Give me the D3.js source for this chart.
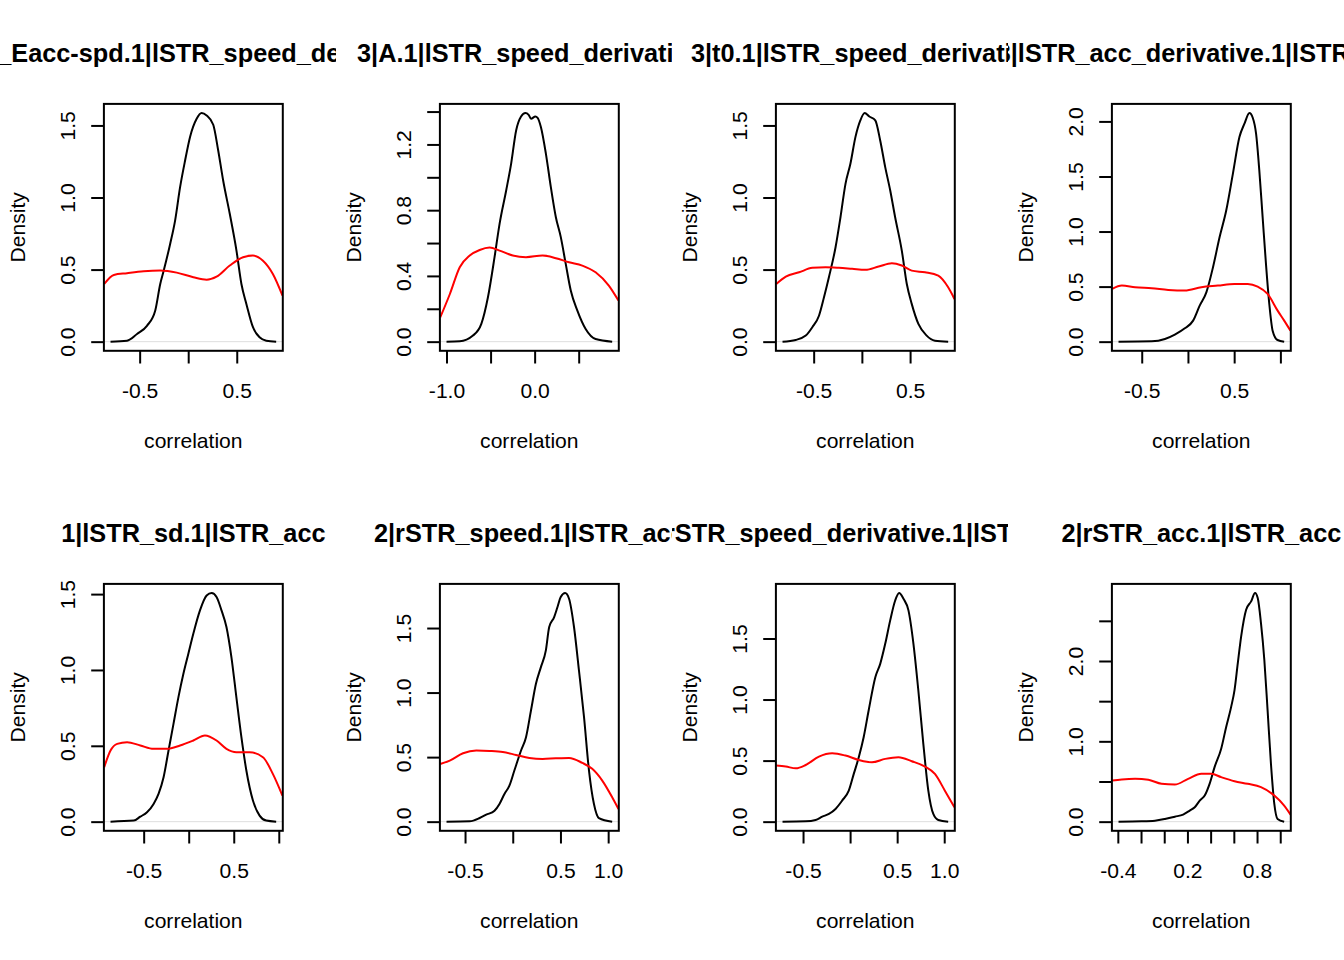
<!DOCTYPE html>
<html>
<head>
<meta charset="utf-8">
<script src="https://cdn.jsdelivr.net/npm/d3@7"></script>
<style>
  body { margin: 0; background: #fff; }
  text { font-family: "Liberation Sans", Arial, Helvetica, sans-serif; }
</style>
</head>
<body>
<div id="chart"></div>
<script>
// panel titles (R clips them to each figure region)
const titles = [
  '3|A_Eacc-spd.1|lSTR_speed_derivative',
  '3|A.1|lSTR_speed_derivative',
  '3|t0.1|lSTR_speed_derivative',
  '3|lSTR_acc_derivative.1|lSTR_acc',
  '1|lSTR_sd.1|lSTR_acc',
  '2|rSTR_speed.1|lSTR_acc',
  '2|rSTR_speed_derivative.1|lSTR_acc',
  '2|rSTR_acc.1|lSTR_acc'
]

const xTicks = [
  [-0.5, 0, 0.5],
  [-1.0, -0.5, 0, 0.5],
  [-0.5, 0, 0.5],
  [-0.5, 0, 0.5, 1.0],
  [-0.5, 0, 0.5, 1.0],
  [-0.5, 0, 0.5, 1.0],
  [-0.5, 0, 0.5, 1.0],
  [-0.4, -0.2, 0, 0.2, 0.4, 0.6, 0.8, 1.0]
]
const xLabels = [
  ['-0.5', '', '0.5'],
  ['-1.0', '', '0.0', ''],
  ['-0.5', '', '0.5'],
  ['-0.5', '', '0.5', ''],
  ['-0.5', '', '0.5', ''],
  ['-0.5', '', '0.5', '1.0'],
  ['-0.5', '', '0.5', '1.0'],
  ['-0.4', '', '', '0.2', '', '', '0.8', '']
]
const yTicks = [
  [0, 0.5, 1.0, 1.5],
  [0, 0.2, 0.4, 0.6, 0.8, 1.0, 1.2, 1.4],
  [0, 0.5, 1.0, 1.5],
  [0, 0.5, 1.0, 1.5, 2.0],
  [0, 0.5, 1.0, 1.5],
  [0, 0.5, 1.0, 1.5],
  [0, 0.5, 1.0, 1.5],
  [0, 0.5, 1.0, 1.5, 2.0, 2.5]
]
const yLabels = [
  ['0.0', '0.5', '1.0', '1.5'],
  ['0.0', '', '0.4', '', '0.8', '', '1.2', ''],
  ['0.0', '0.5', '1.0', '1.5'],
  ['0.0', '0.5', '1.0', '1.5', '2.0'],
  ['0.0', '0.5', '1.0', '1.5'],
  ['0.0', '0.5', '1.0', '1.5'],
  ['0.0', '0.5', '1.0', '1.5'],
  ['0.0', '', '1.0', '', '2.0', '']
]

// density curves: [correlation, density]
// black = observed, red = null
const black1 = [[-0.80,0],[-0.63,0.007],[-0.527,0.053],[-0.425,0.11],[-0.34,0.215],[-0.288,0.40],[-0.254,0.488],[-0.186,0.678],[-0.135,0.84],[-0.084,1.07],[-0.032,1.257],[0.019,1.42],[0.087,1.546],[0.138,1.586],[0.19,1.569],[0.258,1.505],[0.309,1.326],[0.36,1.118],[0.428,0.887],[0.497,0.632],[0.548,0.40],[0.599,0.262],[0.667,0.10],[0.735,0.03],[0.804,0.007],[0.906,0]]
const red1 = [[-0.865,0.40],[-0.766,0.463],[-0.63,0.475],[-0.459,0.488],[-0.288,0.493],[-0.118,0.479],[0.053,0.447],[0.19,0.43],[0.292,0.451],[0.428,0.528],[0.565,0.586],[0.667,0.597],[0.77,0.562],[0.872,0.47],[0.971,0.32]]

const black2 = [[-1.0,0],[-0.85,0.002],[-0.70,0.037],[-0.605,0.108],[-0.53,0.27],[-0.455,0.514],[-0.398,0.717],[-0.323,0.92],[-0.267,1.082],[-0.21,1.285],[-0.154,1.37],[-0.105,1.391],[-0.068,1.38],[-0.041,1.356],[0.008,1.37],[0.034,1.362],[0.071,1.306],[0.128,1.143],[0.184,0.94],[0.241,0.757],[0.297,0.636],[0.353,0.473],[0.41,0.311],[0.485,0.189],[0.579,0.077],[0.692,0.016],[0.88,0]]
const red2 = [[-1.071,0.148],[-0.962,0.29],[-0.85,0.453],[-0.737,0.524],[-0.624,0.558],[-0.511,0.573],[-0.398,0.554],[-0.248,0.524],[-0.098,0.514],[0.09,0.524],[0.241,0.508],[0.391,0.483],[0.541,0.463],[0.692,0.422],[0.842,0.341],[0.951,0.25]]

const black3 = [[-0.823,0],[-0.686,0.012],[-0.582,0.042],[-0.514,0.10],[-0.445,0.18],[-0.393,0.308],[-0.342,0.447],[-0.273,0.655],[-0.222,0.863],[-0.17,1.095],[-0.119,1.234],[-0.067,1.419],[-0.016,1.535],[0.029,1.586],[0.077,1.562],[0.139,1.535],[0.19,1.396],[0.242,1.211],[0.294,1.049],[0.345,0.863],[0.414,0.632],[0.466,0.40],[0.517,0.262],[0.586,0.123],[0.672,0.042],[0.758,0.007],[0.895,0]]
const red3 = [[-0.888,0.40],[-0.789,0.451],[-0.651,0.481],[-0.514,0.512],[-0.376,0.516],[-0.239,0.512],[-0.101,0.505],[0.036,0.498],[0.174,0.521],[0.311,0.544],[0.414,0.528],[0.517,0.493],[0.655,0.481],[0.792,0.458],[0.895,0.377],[0.96,0.296]]

const black4 = [[-0.751,0],[-0.392,0.003],[-0.249,0.024],[-0.142,0.064],[-0.034,0.121],[0.056,0.191],[0.127,0.327],[0.199,0.448],[0.271,0.676],[0.342,0.948],[0.414,1.191],[0.486,1.524],[0.557,1.858],[0.611,1.979],[0.665,2.076],[0.701,2.033],[0.737,1.888],[0.772,1.555],[0.808,1.13],[0.844,0.706],[0.88,0.342],[0.916,0.10],[0.969,0.015],[1.041,0]]
const red4 = [[-0.819,0.479],[-0.715,0.509],[-0.572,0.494],[-0.392,0.485],[-0.213,0.47],[-0.034,0.464],[0.145,0.494],[0.324,0.509],[0.502,0.524],[0.647,0.524],[0.754,0.50],[0.862,0.433],[0.97,0.282],[1.041,0.191],[1.109,0.10]]

const black5 = [[-0.868,0],[-0.61,0.007],[-0.537,0.033],[-0.463,0.062],[-0.39,0.117],[-0.335,0.183],[-0.279,0.293],[-0.224,0.469],[-0.169,0.645],[-0.114,0.821],[-0.059,0.975],[-0.004,1.107],[0.051,1.239],[0.125,1.393],[0.199,1.491],[0.254,1.507],[0.309,1.481],[0.364,1.393],[0.419,1.283],[0.474,1.085],[0.529,0.821],[0.585,0.557],[0.64,0.337],[0.713,0.139],[0.787,0.04],[0.86,0.007],[0.971,0]]
const red5 = [[-0.938,0.359],[-0.868,0.469],[-0.794,0.513],[-0.684,0.524],[-0.537,0.502],[-0.39,0.48],[-0.243,0.48],[-0.096,0.502],[0.051,0.535],[0.18,0.568],[0.309,0.535],[0.419,0.48],[0.529,0.458],[0.676,0.458],[0.824,0.425],[0.934,0.315],[1.04,0.172]]

const black6 = [[-0.694,0],[-0.451,0.003],[-0.347,0.028],[-0.278,0.054],[-0.191,0.085],[-0.139,0.137],[-0.087,0.215],[-0.035,0.279],[0.017,0.396],[0.087,0.551],[0.139,0.654],[0.191,0.861],[0.243,1.068],[0.295,1.197],[0.347,1.327],[0.382,1.508],[0.434,1.585],[0.469,1.663],[0.503,1.74],[0.549,1.771],[0.59,1.727],[0.642,1.508],[0.694,1.171],[0.747,0.809],[0.799,0.396],[0.851,0.137],[0.903,0.028],[1.042,0]]
const red6 = [[-0.76,0.447],[-0.66,0.473],[-0.521,0.53],[-0.382,0.551],[-0.243,0.548],[-0.104,0.54],[0.035,0.517],[0.174,0.494],[0.313,0.486],[0.451,0.491],[0.59,0.494],[0.729,0.455],[0.833,0.409],[0.938,0.318],[1.042,0.189],[1.108,0.098]]

const black7 = [[-0.718,0],[-0.472,0.003],[-0.366,0.014],[-0.296,0.041],[-0.225,0.063],[-0.155,0.104],[-0.085,0.172],[-0.014,0.254],[0.039,0.391],[0.092,0.527],[0.144,0.691],[0.197,0.91],[0.268,1.183],[0.32,1.292],[0.373,1.456],[0.426,1.648],[0.479,1.811],[0.521,1.872],[0.567,1.825],[0.62,1.73],[0.673,1.456],[0.725,1.074],[0.778,0.637],[0.831,0.254],[0.884,0.063],[0.937,0.014],[1.042,0]]
const red7 = [[-0.785,0.459],[-0.683,0.451],[-0.577,0.437],[-0.472,0.464],[-0.331,0.533],[-0.19,0.56],[-0.049,0.541],[0.092,0.505],[0.232,0.486],[0.373,0.514],[0.514,0.527],[0.655,0.495],[0.796,0.451],[0.901,0.391],[1.007,0.254],[1.109,0.117]]

const black8 = [[-0.394,0],[-0.194,0.004],[-0.08,0.012],[0.006,0.033],[0.091,0.062],[0.163,0.088],[0.22,0.138],[0.263,0.179],[0.306,0.262],[0.349,0.325],[0.391,0.471],[0.434,0.679],[0.491,0.908],[0.534,1.179],[0.577,1.429],[0.606,1.638],[0.634,1.971],[0.663,2.304],[0.706,2.638],[0.749,2.742],[0.783,2.846],[0.806,2.783],[0.834,2.471],[0.863,2.012],[0.891,1.388],[0.92,0.721],[0.949,0.221],[0.977,0.033],[1.034,0]]
const red8 = [[-0.449,0.512],[-0.366,0.525],[-0.251,0.533],[-0.137,0.521],[-0.023,0.471],[0.091,0.462],[0.206,0.533],[0.32,0.596],[0.406,0.596],[0.491,0.554],[0.606,0.504],[0.72,0.471],[0.834,0.429],[0.949,0.325],[1.034,0.2],[1.089,0.088]]

const panels = [
  { black: black1, red: red1 },
  { black: black2, red: red2 },
  { black: black3, red: red3 },
  { black: black4, red: red4 },
  { black: black5, red: red5 },
  { black: black6, red: red6 },
  { black: black7, red: red7 },
  { black: black8, red: red8 }
]

const W = 336
const H = 480
const box = { left: 103.9, right: 282.8, top: 103.9, bottom: 350.8 }
const fs = 21.1
const fsMain = 25.3
const tickLen = 12.7

const svg = d3.select('#chart')
  .append('svg')
  .attr('width', W * 4)
  .attr('height', H * 2)

svg.append('rect').attr('width', W * 4).attr('height', H * 2).attr('fill', '#fff')

panels.forEach(function(p, i) {
  const g = svg.append('g')
    .attr('transform', `translate(${(i % 4) * W},${Math.floor(i / 4) * H})`)

  g.append('clipPath').attr('id', 'fig' + i)
    .append('rect').attr('width', W).attr('height', H)
  g.append('clipPath').attr('id', 'plot' + i)
    .append('rect')
    .attr('x', box.left).attr('y', box.top)
    .attr('width', box.right - box.left).attr('height', box.bottom - box.top)

  // R's plot.density ranges: x from the curve, padded 4%; y from 0 to max, padded 4%
  const ext = d3.extent(p.black, d => d[0])
  const pad = (ext[1] - ext[0]) * 0.04
  const x = d3.scaleLinear().domain([ext[0] - pad, ext[1] + pad]).range([box.left, box.right])
  const top = d3.max(p.black, d => d[1])
  const y = d3.scaleLinear().domain([-0.04 * top, 1.04 * top]).range([box.bottom, box.top])

  const cx = (box.left + box.right) / 2
  const cy = (box.top + box.bottom) / 2

  // zero line
  g.append('line')
    .attr('x1', box.left).attr('x2', box.right)
    .attr('y1', y(0)).attr('y2', y(0))
    .attr('stroke', '#bebebe')
    .attr('stroke-width', 0.5)

  const line = d3.line()
    .x(d => x(d[0]))
    .y(d => y(d[1]))
    .curve(d3.curveMonotoneX)

  g.append('path')
    .attr('d', line(p.black))
    .attr('fill', 'none')
    .attr('stroke', '#000')
    .attr('stroke-width', 2)
    .attr('clip-path', `url(#plot${i})`)

  g.append('path')
    .attr('d', line(p.red))
    .attr('fill', 'none')
    .attr('stroke', '#ff0000')
    .attr('stroke-width', 2)
    .attr('clip-path', `url(#plot${i})`)

  g.append('rect')
    .attr('x', box.left).attr('y', box.top)
    .attr('width', box.right - box.left).attr('height', box.bottom - box.top)
    .attr('fill', 'none')
    .attr('stroke', '#000')
    .attr('stroke-width', 2)

  // x axis
  const xa = g.append('g')
    .attr('transform', `translate(0,${box.bottom})`)
    .call(d3.axisBottom(x)
      .tickValues(xTicks[i])
      .tickSize(tickLen)
      .tickSizeOuter(0)
      .tickFormat((d, k) => xLabels[i][k]))
  xa.select('.domain').remove()
  xa.attr('font-size', fs).attr('font-family', null)
  xa.selectAll('line').attr('stroke', '#000').attr('stroke-width', 2)
  xa.selectAll('text').attr('y', 46.8).attr('dy', null).attr('fill', '#000')

  // y axis, labels parallel to the axis as in R
  const ya = g.append('g')
    .attr('transform', `translate(${box.left},0)`)
    .call(d3.axisLeft(y)
      .tickValues(yTicks[i])
      .tickSize(tickLen)
      .tickSizeOuter(0)
      .tickFormat((d, k) => yLabels[i][k]))
  ya.select('.domain').remove()
  ya.attr('font-size', fs).attr('font-family', null)
  ya.selectAll('line').attr('stroke', '#000').attr('stroke-width', 2)
  ya.selectAll('text')
    .attr('x', null).attr('dy', null)
    .attr('text-anchor', 'middle')
    .attr('fill', '#000')
    .attr('transform', 'translate(-29,0) rotate(-90)')

  g.append('text')
    .attr('x', cx).attr('y', box.bottom + 97.5)
    .attr('text-anchor', 'middle')
    .attr('font-size', fs)
    .text('correlation')

  g.append('text')
    .attr('transform', `translate(${box.left - 79},${cy}) rotate(-90)`)
    .attr('text-anchor', 'middle')
    .attr('font-size', fs)
    .text('Density')

  g.append('text')
    .attr('x', cx).attr('y', 62.3)
    .attr('text-anchor', 'middle')
    .attr('font-size', fsMain)
    .attr('font-weight', 'bold')
    .attr('clip-path', `url(#fig${i})`)
    .text(titles[i])
})
</script>
</body>
</html>
